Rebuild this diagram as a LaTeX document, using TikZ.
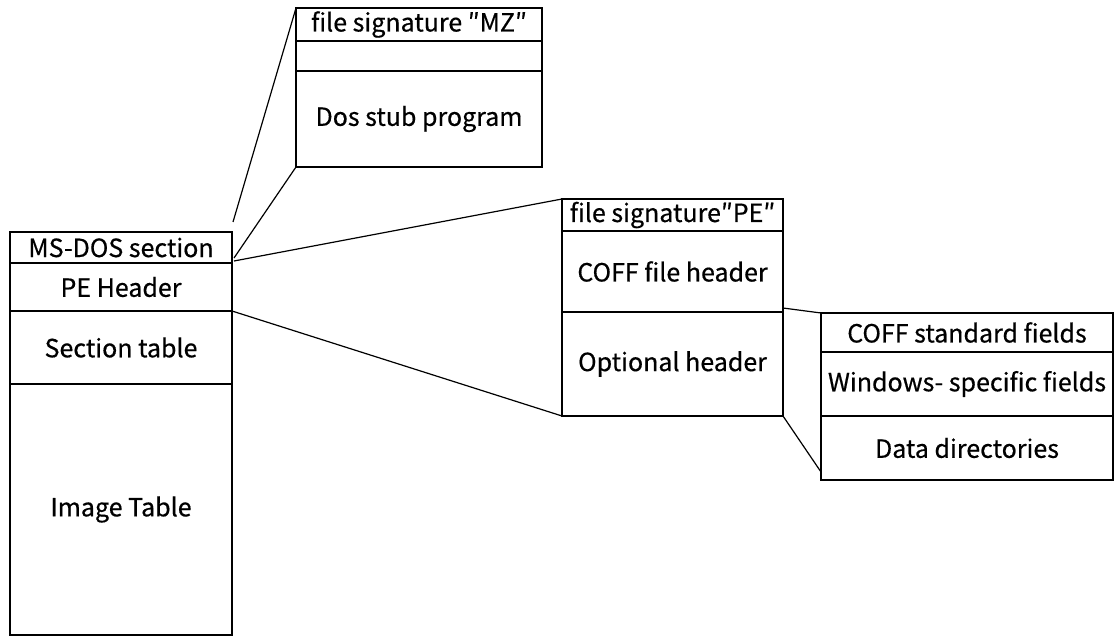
\documentclass[tikz,border=0pt]{standalone}
\usepackage{fontspec}
\setmainfont{Noto Sans CJK JP}
\newfontfamily\lab{Noto Sans CJK JP}[FakeBold=0.5]
\begin{document}
\begin{tikzpicture}[x=1pt,y=-1pt,
  cell/.style={draw, line width=1.8pt, anchor=north west, inner sep=0pt, outer sep=0pt,
    align=center, font=\lab\fontsize{25}{28}\selectfont},
  link/.style={line width=1.2pt}]
\useasboundingbox (0,0) rectangle (1115,639);
% left column
\node[cell, minimum width=222pt, minimum height=31pt]  (msdos)  at (10,232) {MS-DOS section};
\node[cell, minimum width=222pt, minimum height=48pt]  (pehdr)  at (10,263) {PE Header};
\node[cell, minimum width=222pt, minimum height=73pt]  (sectab) at (10,311) {Section table};
\node[cell, minimum width=222pt, minimum height=251pt] (image)  at (10,384) {Image Table};
% MZ box
\node[cell, minimum width=246pt, minimum height=33pt] (mzsig)   at (296,8)  {file signature ″MZ″};
\node[cell, minimum width=246pt, minimum height=30pt] (mzblank) at (296,41) {};
\node[cell, minimum width=246pt, minimum height=96pt] (stub)    at (296,71) {Dos stub program};
% PE box
\node[cell, minimum width=221pt, minimum height=32pt]  (pesig) at (562,199) {file signature″PE″};
\node[cell, minimum width=221pt, minimum height=81pt]  (coff)  at (562,231) {COFF file header};
\node[cell, minimum width=221pt, minimum height=104pt] (opt)   at (562,312) {Optional header};
% optional header box
\node[cell, minimum width=292pt, minimum height=39pt] (coffstd) at (821,313) {COFF standard fields};
\node[cell, minimum width=292pt, minimum height=64pt] (winspec) at (821,352) {Windows- specific fields};
\node[cell, minimum width=292pt, minimum height=64pt] (datadir) at (821,416) {Data directories};
% connectors
\draw[link] ([xshift=1pt,yshift=10pt]msdos.north east) -- (mzsig.north west);
\draw[link] ([xshift=2pt,yshift=5pt]msdos.south east) -- (stub.south west);
\draw[link] ([xshift=2pt,yshift=2pt]msdos.south east) -- (pesig.north west);
\draw[link] (pehdr.south east) -- (opt.south west);
\draw[link] ([yshift=4pt]coff.south east) -- (coffstd.north west);
\draw[link] (opt.south east) -- ([yshift=8pt]datadir.south west);
\end{tikzpicture}
\end{document}
